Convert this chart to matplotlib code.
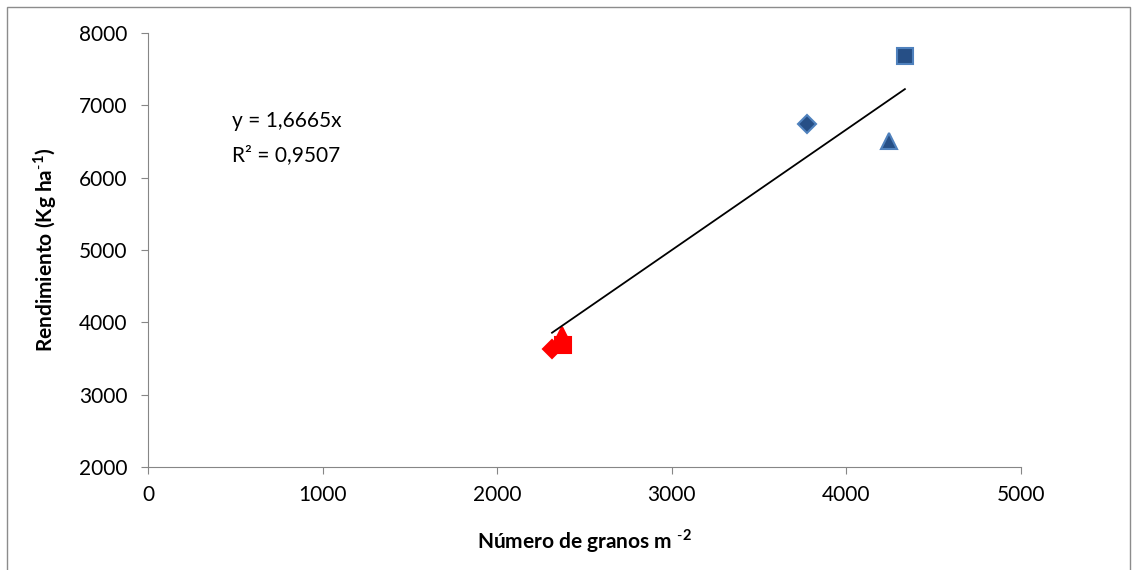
import matplotlib
matplotlib.use('Agg')
from matplotlib import pyplot as plt
from matplotlib.patches import Rectangle
import numpy as np

plt.rcParams['font.family'] = ['Lato', 'DejaVu Sans']
plt.rcParams['mathtext.fontset'] = 'custom'
plt.rcParams['mathtext.rm'] = 'Lato'
plt.rcParams['mathtext.bf'] = 'Lato:bold'

# granos m-2 vs rendimiento, dos grupos de tratamientos
x_azul = [4335, 3774, 4244]
y_azul = [7682, 6741, 6506]
x_rojo = [2377, 2314, 2371]
y_rojo = [3685, 3629, 3830]
marcadores = ['s', 'D', '^']

pendiente = 1.6665
r2 = 0.9507

fig = plt.figure(figsize=(11.33, 5.70), dpi=100)
ax = fig.add_axes([148 / 1133, 1 - 467 / 570, (1021 - 148) / 1133, (467 - 33) / 570])

# marco exterior del grafico
fig.patches.append(Rectangle((7 / 1133, -0.02), (1130 - 7) / 1133, 1 - 7 / 570 + 0.02,
                             transform=fig.transFigure, fill=False,
                             edgecolor='#8c8c8c', linewidth=1.0))

sizes = {'s': 12, 'D': 9, '^': 12}
for xv, yv, m in zip(x_azul, y_azul, marcadores):
    ax.plot(xv, yv, marker=m, markersize=sizes[m], color='#264f86',
            markeredgecolor='#4f81bd', markeredgewidth=1.5, linestyle='none', zorder=3)
for xv, yv, m in zip(x_rojo, y_rojo, marcadores):
    ax.plot(xv, yv, marker=m, markersize=sizes[m], color='#ff0000',
            markeredgecolor='#ff0000', markeredgewidth=1.5, linestyle='none', zorder=3)

# linea de tendencia por el origen
todos_x = np.array(x_azul + x_rojo)
xl = np.array([todos_x.min(), todos_x.max()])
ax.plot(xl, pendiente * xl, color='black', linewidth=1.3, zorder=4)

fs = 15
ax.text(480, 6780, 'y = ' + f'{pendiente:.4f}'.replace('.', ',') + 'x', fontsize=fs,
        va='center')
ax.text(480, 6310, 'R² = ' + f'{r2:.4f}'.replace('.', ','), fontsize=fs, va='center')

ax.set_xlim(0, 5000)
ax.set_ylim(2000, 8000)
ax.set_xticks(np.arange(0, 5001, 1000))
ax.set_yticks(np.arange(2000, 8001, 1000))

for s in ['top', 'right']:
    ax.spines[s].set_visible(False)
for s in ['left', 'bottom']:
    ax.spines[s].set_color('#868686')
ax.tick_params(colors='#868686', labelcolor='black', labelsize=fs, length=5, direction='out')
ax.tick_params(axis='x', pad=8)
ax.tick_params(axis='y', pad=10)

ax.set_xlabel(r'Número de granos m $^{\mathbf{\text{-}2}}$', fontsize=fs, fontweight='bold', labelpad=16)
ax.set_ylabel(r'Rendimiento (Kg ha$^{\mathbf{\text{-}1}}$)', fontsize=fs, fontweight='bold', labelpad=14)

fig.savefig('out.png', dpi=100)
